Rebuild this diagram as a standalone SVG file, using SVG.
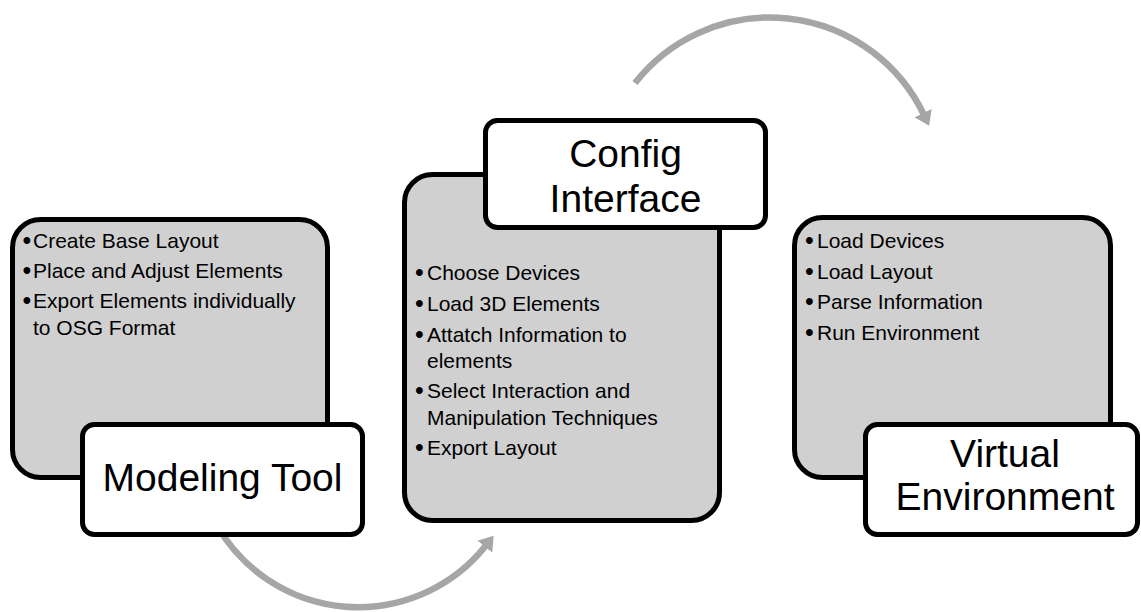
<svg xmlns="http://www.w3.org/2000/svg" width="1141" height="612" viewBox="0 0 1141 612">
  <style>
    .panel { fill: #d0d0d0; stroke: #000; stroke-width: 5; }
    .title-box { fill: #fff; stroke: #000; stroke-width: 5; }
    .title { font-family: "Liberation Sans", Arial, sans-serif; font-size: 39px; fill: #000; text-anchor: middle; }
    .item { font-family: "Liberation Sans", Arial, sans-serif; font-size: 21px; fill: #000; }
    .dot { font-family: "Liberation Sans", Arial, sans-serif; font-size: 25px; fill: #000; }
    .flow { fill: none; stroke: #a6a6a6; stroke-width: 6.5; stroke-linecap: butt; }
  </style>
  <defs>
    <marker id="head" markerUnits="userSpaceOnUse" markerWidth="16" markerHeight="22" refX="1" refY="11" orient="auto" viewBox="0 0 16 22">
      <path d="M0,1.5 L14,11 L0,20.5 Z" fill="#a6a6a6"/>
    </marker>
  </defs>

  <!-- curved flow arrows, drawn first so the boxes sit on top -->
  <g id="connectors">
    <path class="flow" d="M 217 525.5 A 163 163 0 0 0 485.5 546" marker-end="url(#head)"/>
    <path class="flow" d="M 635 83 A 171 171 0 0 1 923.5 114" marker-end="url(#head)"/>
  </g>

  <!-- step 1 -->
  <g id="modeling-tool">
    <rect class="panel" x="12.5" y="219.5" width="315" height="258" rx="28"/>
    <text class="dot" x="22.5" y="249">•</text>
    <text class="item" x="33" y="248">Create Base Layout</text>
    <text class="dot" x="22.5" y="279">•</text>
    <text class="item" x="33" y="278">Place and Adjust Elements</text>
    <text class="dot" x="22.5" y="309">•</text>
    <text class="item" x="33" y="308">Export Elements individually</text>
    <text class="item" x="33" y="335">to OSG Format</text>
    <rect class="title-box" x="82.5" y="424.5" width="280" height="110" rx="12"/>
    <text class="title" x="222.5" y="491">Modeling Tool</text>
  </g>

  <!-- step 2 -->
  <g id="config-interface">
    <rect class="panel" x="404.5" y="174.5" width="315" height="346" rx="28"/>
    <text class="dot" x="415" y="281">•</text>
    <text class="item" x="427" y="280">Choose Devices</text>
    <text class="dot" x="415" y="312">•</text>
    <text class="item" x="427" y="311">Load 3D Elements</text>
    <text class="dot" x="415" y="343">•</text>
    <text class="item" x="427" y="342">Attatch Information to</text>
    <text class="item" x="427" y="368">elements</text>
    <text class="dot" x="415" y="399">•</text>
    <text class="item" x="427" y="398">Select Interaction and</text>
    <text class="item" x="427" y="425">Manipulation Techniques</text>
    <text class="dot" x="415" y="456">•</text>
    <text class="item" x="427" y="455">Export Layout</text>
    <rect class="title-box" x="485.5" y="120.5" width="280" height="107" rx="12"/>
    <text class="title" x="625.5" y="167">Config</text>
    <text class="title" x="625.5" y="212">Interface</text>
  </g>

  <!-- step 3 -->
  <g id="virtual-environment">
    <rect class="panel" x="794.5" y="217.5" width="316" height="260" rx="28"/>
    <text class="dot" x="805" y="249">•</text>
    <text class="item" x="817" y="248">Load Devices</text>
    <text class="dot" x="805" y="279.5">•</text>
    <text class="item" x="817" y="278.5">Load Layout</text>
    <text class="dot" x="805" y="310">•</text>
    <text class="item" x="817" y="309">Parse Information</text>
    <text class="dot" x="805" y="340.5">•</text>
    <text class="item" x="817" y="339.5">Run Environment</text>
    <rect class="title-box" x="865.5" y="424.5" width="272" height="110" rx="12"/>
    <text class="title" x="1005" y="467">Virtual</text>
    <text class="title" x="1005" y="510">Environment</text>
  </g>
</svg>
